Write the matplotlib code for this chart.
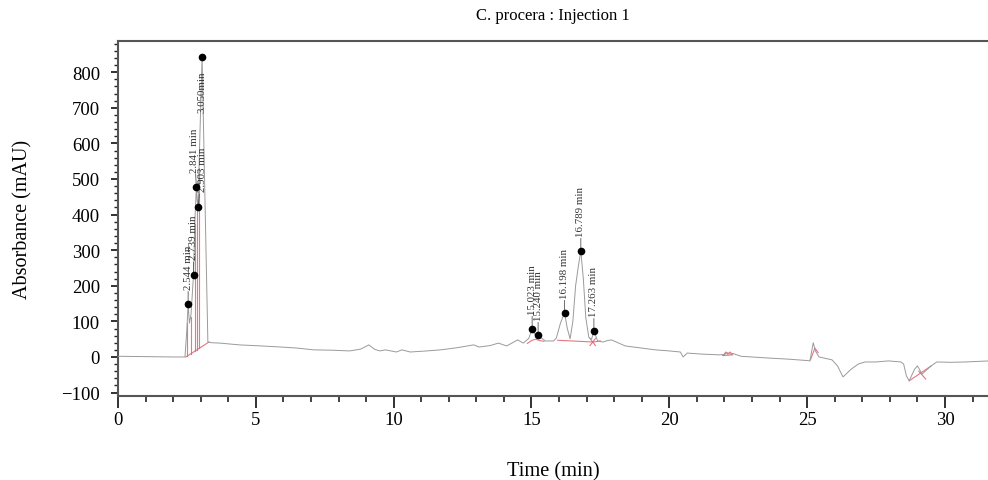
import numpy as np
import matplotlib.pyplot as plt
from matplotlib.ticker import MultipleLocator

plt.rcParams['font.family'] = ['Liberation Serif', 'DejaVu Serif']

# chromatogram trace (time in min, absorbance in mAU)
trace_t = [0, 1.0, 2.0, 2.43, 2.50, 2.544, 2.59, 2.65, 2.739, 2.80, 2.841, 2.87, 2.903,
           2.97, 3.050, 3.26, 3.4, 3.7, 4.4, 5.2, 5.9, 6.5, 7.1, 7.8, 8.4, 8.8, 9.1,
           9.3, 9.5, 9.7, 10.1, 10.3, 10.6, 11.2, 11.7, 12.3, 12.9, 13.1, 13.5, 13.8,
           14.1, 14.5, 14.7, 14.9, 15.023, 15.12, 15.24, 15.35, 15.5, 15.8, 15.9,
           16.05, 16.198, 16.3, 16.4, 16.5, 16.6, 16.7, 16.789, 16.88, 16.97, 17.08,
           17.18, 17.263, 17.4, 17.6, 17.75, 17.9, 18.4, 19.0, 19.5, 20.0, 20.4, 20.5,
           20.65, 21.2, 21.8, 22.0, 22.1, 22.2, 22.3, 22.6, 23.6, 24.3, 25.0, 25.1,
           25.22, 25.3, 25.43, 25.9, 26.1, 26.3, 26.6, 26.85, 27.1, 27.5, 27.95, 28.4,
           28.5, 28.6, 28.7, 28.9, 29.0, 29.17, 29.35, 29.5, 29.7, 30.2, 30.75, 31.6]
trace_a = [2, 1, 0, 0, 80, 149, 95, 120, 231, 400, 478, 440, 422,
           620, 843, 42, 40, 39, 34, 31, 28, 25, 20, 19, 17, 22, 34,
           22, 17, 20, 14, 20, 14, 17, 20, 26, 34, 28, 32, 39,
           31, 48, 39, 52, 79, 64, 62, 54, 45, 45, 53,
           95, 124, 80, 51, 100, 200, 255, 298, 220, 110, 55,
           50, 73, 45, 42, 46, 48, 31, 25, 20, 17, 14, 0,
           11, 8, 6, 7, 12, 8, 10, 2, -3, -6, -10, -11,
           40, 17, 0, -8, -25, -56, -34, -20, -14, -14, -11, -14,
           -20, -53, -67, -34, -25, -48, -35, -25, -14, -15, -14, -11]

# labelled peaks
peak_t = [2.544, 2.739, 2.841, 2.903, 3.050, 15.023, 15.240, 16.198, 16.789, 17.263]
peak_a = [149, 231, 478, 422, 843, 79, 62, 124, 298, 73]
peak_labels = ['2.544 min', '2.739 min', '2.841 min', '2.903 min', '3.050min',
               '15.023 min', '15.240 min', '16.198 min', '16.789 min', '17.263 min']

# integration baselines (red)
base_segments = [
    ([2.46, 3.30], [0, 42]),
    ([14.85, 15.0, 15.15, 15.3, 15.45], [38, 46, 50, 46, 44]),
    ([15.95, 17.25, 17.5], [47, 42, 45]),
    ([17.12, 17.32], [52, 32]),
    ([17.12, 17.32], [32, 52]),
    ([21.95, 22.05, 22.12, 22.2, 22.3, 21.95], [4, 14, 8, 14, 6, 4]),
    ([25.12, 25.28, 25.4], [-8, 25, 12]),
    ([28.7, 29.5], [-67, -25]),
    ([29.05, 29.3], [-40, -62]),
]
drop_t = [2.51, 2.63, 2.79, 2.87, 2.94]
drop_base = ([2.46, 3.30], [0, 42])

fig = plt.figure(figsize=(9.88, 4.81), dpi=100)
ax = fig.add_axes([118/988, 1-397/481, 870/988, 355/481])

red = '#e0606e'
for xs, ys in base_segments:
    ax.plot(xs, ys, color=red, lw=0.8, alpha=0.85, zorder=2)
for t in drop_t:
    y0 = np.interp(t, *drop_base)
    y1 = np.interp(t, trace_t, trace_a)
    ax.plot([t, t], [y0, y1], color=red, lw=0.8, alpha=0.85, zorder=2)

ax.plot(trace_t, trace_a, color='#9a9a9a', lw=0.7, zorder=3)
ax.plot(peak_t, peak_a, 'o', color='black', markersize=4.5, zorder=5)

# peak labels, rotated, with small leader line
label_dx = [0, 0, -2, 4, 0, 0, 0, 0, 0, 0]  # px nudge to keep close labels apart
for t, a, lab, dx in zip(peak_t, peak_a, peak_labels, label_dx):
    if a > 700:
        ax.annotate(lab, (t, a), xytext=(dx, -10), textcoords='offset points',
                    rotation=90, ha='center', va='top', fontsize=7.8, color='#333333')
    else:
        ax.annotate(lab, (t, a), xytext=(dx * 0.72, 11), textcoords='offset points',
                    rotation=90, ha='center', va='bottom', fontsize=7.8, color='#333333',
                    arrowprops=dict(arrowstyle='-', color='#555555', lw=0.6,
                                    shrinkA=0, shrinkB=0))

ax.set_xlim(0, 31.56)
ax.set_ylim(-109.6, 887.6)
ax.xaxis.set_major_locator(MultipleLocator(5))
ax.xaxis.set_minor_locator(MultipleLocator(1))
ax.yaxis.set_major_locator(MultipleLocator(100))
ax.yaxis.set_minor_locator(MultipleLocator(20))

for side in ['left', 'bottom', 'top']:
    ax.spines[side].set_color('#555555')
    ax.spines[side].set_linewidth(1.5)
ax.spines['right'].set_visible(False)
ax.tick_params(axis='x', which='major', length=8.5, width=1.3, pad=2.5, labelsize=13.5,
               direction='out', color='#222222')
ax.tick_params(axis='x', which='minor', length=4.5, width=1.2, direction='out', color='#222222')
ax.tick_params(axis='y', which='major', length=5, width=1.3, pad=8, labelsize=13.5,
               direction='out', color='#222222')
ax.tick_params(axis='y', which='minor', length=3, width=1.0, direction='out', color='#222222')

ax.set_xlabel('Time (min)', fontsize=14.7, labelpad=24)
ax.set_ylabel('Absorbance (mAU)', fontsize=14.5, labelpad=21)
ax.set_title('C. procera : Injection 1', fontsize=12, pad=16)

plt.savefig('out.png', dpi=100)
